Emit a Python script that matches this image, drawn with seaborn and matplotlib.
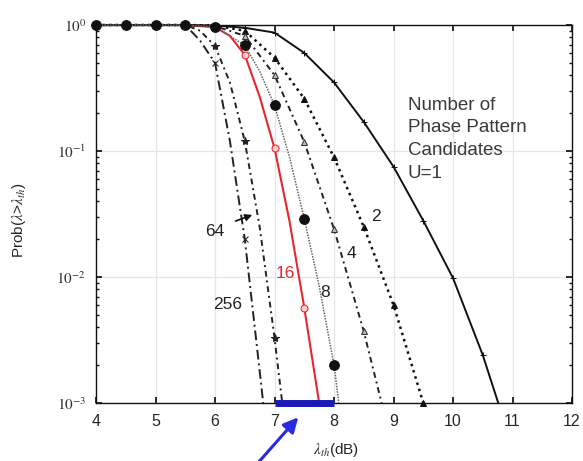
import numpy as np
import matplotlib
matplotlib.use("Agg")
import matplotlib.pyplot as plt
import seaborn as sns
from matplotlib.ticker import LogLocator, FuncFormatter, NullFormatter

# CCDF values (threshold in dB, probability)
lam_1 = [4.0, 4.5, 5.0, 5.5, 6.0, 6.5, 7.0, 7.5, 8.0, 8.5, 9.0, 9.5, 10.0, 10.5, 10.76]
p_1 = [1.0, 1.0, 1.0, 1.0, 0.99, 0.95, 0.87, 0.60, 0.35, 0.17, 0.075, 0.028, 0.0098, 0.0024, 0.001]

lam_2 = [4.0, 4.5, 5.0, 5.5, 6.0, 6.5, 7.0, 7.5, 8.0, 8.5, 9.0, 9.5]
p_2 = [1.0, 1.0, 1.0, 1.0, 0.99, 0.90, 0.55, 0.26, 0.089, 0.025, 0.006, 0.001]

lam_4 = [4.0, 4.5, 5.0, 5.5, 6.0, 6.5, 7.0, 7.5, 8.0, 8.5, 8.8]
p_4 = [1.0, 1.0, 1.0, 1.0, 0.98, 0.82, 0.40, 0.118, 0.024, 0.0037, 0.001]

lam_8 = [4.0, 4.5, 5.0, 5.5, 6.0, 6.5, 6.75, 7.0, 7.25, 7.5, 7.75, 8.0, 8.08]
p_8 = [1.0, 1.0, 1.0, 1.0, 0.97, 0.69, 0.43, 0.23, 0.09, 0.029, 0.0085, 0.002, 0.001]

lam_16 = [4.0, 4.5, 5.0, 5.5, 6.0, 6.25, 6.5, 6.75, 7.0, 7.25, 7.5, 7.75]
p_16 = [1.0, 1.0, 1.0, 1.0, 0.96, 0.82, 0.58, 0.27, 0.105, 0.028, 0.0057, 0.001]

lam_64 = [4.0, 4.5, 5.0, 5.5, 5.75, 6.0, 6.25, 6.5, 6.75, 7.0, 7.13]
p_64 = [1.0, 1.0, 1.0, 1.0, 0.90, 0.68, 0.35, 0.12, 0.025, 0.0033, 0.001]

lam_256 = [4.0, 4.5, 5.0, 5.5, 5.75, 6.0, 6.25, 6.5, 6.75, 6.81]
p_256 = [1.0, 1.0, 1.0, 1.0, 0.75, 0.50, 0.12, 0.02, 0.0018, 0.001]

# curve labels: text, position, colour
lbl_text = ["2", "4", "8", "16", "64", "256"]
lbl_x = [8.71, 8.30, 7.85, 7.18, 6.0, 6.22]
lbl_y = [0.030, 0.0155, 0.0076, 0.0107, 0.0228, 0.006]
lbl_col = ["#222222", "#222222", "#222222", "#e8262e", "#222222", "#222222"]

bar_lam = [7.0, 8.0]

sns.set_theme(style="ticks")
plt.rcParams["font.family"] = ["Liberation Sans", "DejaVu Sans"]
plt.rcParams["mathtext.fontset"] = "stix"

fig = plt.figure(figsize=(5.83, 4.61), dpi=100)
ax = fig.add_axes([0.1647, 0.1258, 0.8165, 0.82])


def every_half(lam):
    # markers only on the 0.5 dB grid
    return [i for i, v in enumerate(lam) if abs(v * 2 - round(v * 2)) < 1e-6]


# red curve first so the black markers sit on top of the shared top row
curves = [
    (lam_16, p_16, dict(color="#e8262e", lw=1.5, ls="-", marker="o", ms=5, mec="#e8262e", mfc="#f6d0d0")),
    (lam_1, p_1, dict(color="#111111", lw=1.4, ls="-", marker="+", ms=5, mec="#111111", mfc="none")),
    (lam_2, p_2, dict(color="#111111", lw=1.8, ls=(0, (1, 1.6)), marker="^", ms=5, mec="#111111", mfc="#111111")),
    (lam_4, p_4, dict(color="#222222", lw=1.4, ls=(0, (3, 2, 1, 2)), marker="^", ms=5, mec="#333333", mfc="#bbbbbb")),
    (lam_64, p_64, dict(color="#222222", lw=1.4, ls=(0, (3, 2, 1, 2)), marker="*", ms=6, mec="#222222", mfc="#222222")),
    (lam_256, p_256, dict(color="#222222", lw=1.4, ls=(0, (5, 2, 1, 2)), marker="x", ms=5, mec="#222222", mfc="none")),
    (lam_8, p_8, dict(color="#666666", lw=1.1, ls=(0, (1, 0.8)), marker="o", ms=7, mec="#111111", mfc="#111111")),
]

for lam, p, st in curves:
    sns.lineplot(x=lam, y=p, ax=ax, markevery=every_half(lam), clip_on=False,
                 zorder=3, legend=False, **st)

ax.set_yscale("log")
ax.set_xlim(4, 12)
ax.set_ylim(1e-3, 1)
ax.set_xticks(range(4, 13))
ax.yaxis.set_major_locator(LogLocator(base=10, numticks=10))
ax.yaxis.set_minor_locator(LogLocator(base=10, subs=np.arange(2, 10), numticks=10))
ax.yaxis.set_major_formatter(FuncFormatter(lambda v, pos: r"$10^{%d}$" % round(np.log10(v))))
ax.yaxis.set_minor_formatter(NullFormatter())

ax.grid(True, which="major", color="#e6e6e6", lw=0.9)
ax.tick_params(which="both", direction="in", top=True, right=True, color="#111111")
ax.tick_params(which="major", length=4, labelsize=11.5, pad=8)
ax.tick_params(which="minor", length=2.5)
ax.tick_params(axis="y", which="major", labelsize=11, labelcolor="#333333", pad=7)
for s in ax.spines.values():
    s.set_color("#111111")
    s.set_linewidth(1.0)

ax.set_xlabel(r"$\lambda_{th}$(dB)", fontsize=11)
ax.set_ylabel(r"Prob($\lambda$>$\lambda_{th}$)", fontsize=11)
ax.xaxis.set_label_coords(0.504, -0.10)
ax.yaxis.set_label_coords(-0.142, 0.484)

for t, x, y, c in zip(lbl_text, lbl_x, lbl_y, lbl_col):
    ax.text(x, y, t, color=c, fontsize=12.5, ha="center", va="center", zorder=5)

# arrow from the "64" label to its curve
ax.annotate("", xy=(6.67, 0.0316), xytext=(6.30, 0.0273),
            arrowprops=dict(arrowstyle="-|>", color="#111111", lw=1.2, mutation_scale=10))

ax.text(9.24, 0.27, "Number of\nPhase Pattern\nCandidates\nU=1", fontsize=13.5,
        ha="left", va="top", color="#3a3a3a", linespacing=1.45)

# blue bar on the axis and pointing arrow
ax.plot(bar_lam, [1e-3, 1e-3], color="#1a1ab8", lw=5, solid_capstyle="butt",
        clip_on=False, zorder=6)
ax.annotate("", xy=(7.43, 8.0e-4), xytext=(6.71, 3.3e-4), xycoords="data",
            annotation_clip=False,
            arrowprops=dict(arrowstyle="-|>", color="#2a2ae0", lw=2.2, mutation_scale=22))

fig.savefig("out.png", dpi=100, facecolor="white")
